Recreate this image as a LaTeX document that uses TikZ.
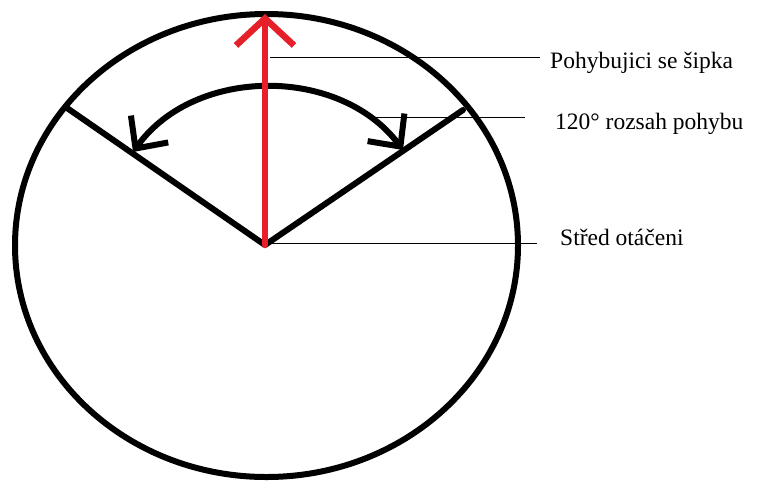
\documentclass[tikz,border=0pt]{standalone}
\usepackage{fontspec}
\setmainfont{Liberation Serif}
\usepackage{xcolor}
\usetikzlibrary{arrows.meta}

\definecolor{paintred}{RGB}{230,32,42}

\begin{document}
\begin{tikzpicture}[
  x=1pt, y=-1pt,
  thickline/.style={line width=6pt, line cap=round, line join=round},
  rangearc/.style={thickline,
    {Straight Barb[length=24pt, width=46pt]}-{Straight Barb[length=24pt, width=46pt]}},
  redarrow/.style={line width=6.5pt, paintred, line cap=round,
    -{Straight Barb[length=27pt, width=58pt]}},
  leader/.style={line width=1pt},
  lbl/.style={anchor=base west, inner sep=0pt, font=\fontsize{23.5}{26}\selectfont}
]
\useasboundingbox (0,0) rectangle (757,483);

\coordinate (pivot)    at (265,245);
\coordinate (leftend)  at (67,108);
\coordinate (rightend) at (463,110);
\coordinate (arcL)     at (133,152);
\coordinate (arcR)     at (403,150);
\coordinate (tip)      at (265,14);
\coordinate (lead1)    at (270,57);
\coordinate (lead2)    at (373,117);
\coordinate (lead3)    at (268,243);

% outer circle and range limits
\draw[thickline] (266.5,245.5) ellipse [x radius=251.5, y radius=231.5];
\draw[thickline] (leftend) -- (pivot) -- (rightend);
\draw[rangearc] (arcL) .. controls (195,66) and (340,66) .. (arcR);

% moving arrow
\draw[redarrow] (pivot) -- (tip);

% labels
\node[lbl] (lblarrow)  at (550,68)  {Pohybujici se šipka};
\node[lbl] (lblrange)  at (555,129) {120° rozsah pohybu};
\node[lbl] (lblcenter) at (560,245) {Střed otáčeni};

\draw[leader, shorten >=10pt] (lead1) -- (lead1 -| lblarrow.west);
\draw[leader, shorten >=30pt] (lead2) -- (lead2 -| lblrange.west);
\draw[leader, shorten >=23pt] (lead3) -- (lead3 -| lblcenter.west);
\end{tikzpicture}
\end{document}
